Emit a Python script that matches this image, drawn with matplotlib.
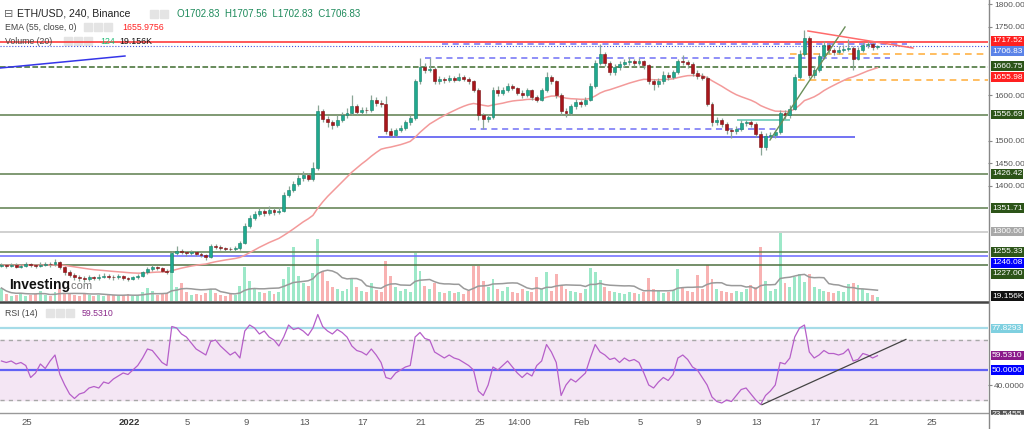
import numpy as np
import pandas as pd
import matplotlib
matplotlib.use("Agg")
import matplotlib.pyplot as plt
from matplotlib.transforms import blended_transform_factory
from matplotlib.patches import Rectangle
from matplotlib.lines import Line2D

plt.rcParams['font.family'] = ['Liberation Sans', 'DejaVu Sans']

# ---- data (8h bars, time in days since Dec 23 00:00) ----
closes = [1226, 1224, 1227, 1223, 1225, 1228, 1226, 1224, 1227, 1229,
          1228, 1232, 1222, 1212, 1205, 1200, 1198, 1196, 1199, 1197,
          1201, 1203, 1200, 1199, 1202, 1198, 1196, 1199, 1203, 1210,
          1218, 1222, 1220, 1214, 1212, 1253, 1257, 1255, 1252, 1254,
          1250, 1248, 1243, 1268, 1266, 1263, 1262, 1261, 1263, 1275,
          1312, 1330, 1338, 1345, 1340, 1348, 1342, 1346, 1380, 1392,
          1405, 1418, 1425, 1416, 1440, 1565, 1548, 1540, 1533, 1545,
          1555, 1560, 1575, 1562, 1568, 1566, 1588, 1582, 1580, 1520,
          1512, 1522, 1528, 1540, 1550, 1630, 1662, 1655, 1658, 1630,
          1636, 1632, 1638, 1634, 1640, 1636, 1630, 1612, 1555, 1548,
          1552, 1612, 1605, 1610, 1620, 1615, 1605, 1600, 1610, 1595,
          1590, 1610, 1640, 1630, 1600, 1565, 1560, 1575, 1585, 1580,
          1590, 1620, 1670, 1690, 1670, 1650, 1662, 1668, 1672, 1675,
          1670, 1674, 1665, 1630, 1625, 1630, 1645, 1640, 1650, 1675,
          1672, 1668, 1648, 1642, 1638, 1580, 1540, 1545, 1537, 1522,
          1520, 1525, 1538, 1540, 1537, 1515, 1485, 1510, 1512, 1518,
          1560, 1555, 1570, 1640, 1690, 1725, 1645, 1655, 1685, 1710,
          1698, 1695, 1700, 1702, 1704, 1680, 1700, 1710, 1712, 1705,
          1706.83]
highs = [1230, 1229, 1231, 1230, 1229, 1233, 1231, 1229, 1232, 1234,
         1233, 1240, 1235, 1225, 1215, 1208, 1204, 1202, 1204, 1203,
         1206, 1208, 1206, 1204, 1207, 1205, 1201, 1203, 1207, 1214,
         1222, 1227, 1225, 1223, 1217, 1258, 1268, 1261, 1258, 1259,
         1257, 1254, 1251, 1273, 1272, 1270, 1267, 1266, 1268, 1280,
         1318, 1336, 1345, 1352, 1350, 1355, 1352, 1353, 1386, 1400,
         1412, 1424, 1432, 1429, 1452, 1578, 1570, 1553, 1545, 1555,
         1562, 1572, 1600, 1580, 1574, 1573, 1600, 1595, 1588, 1598,
         1528, 1528, 1534, 1546, 1556, 1636, 1681, 1670, 1681, 1662,
         1642, 1640, 1645, 1642, 1648, 1645, 1640, 1634, 1616, 1560,
         1558, 1618, 1620, 1618, 1626, 1624, 1618, 1610, 1615, 1613,
         1600, 1616, 1650, 1645, 1634, 1604, 1572, 1580, 1592, 1590,
         1596, 1626, 1678, 1712, 1695, 1674, 1668, 1675, 1680, 1684,
         1680, 1682, 1678, 1668, 1636, 1638, 1652, 1650, 1656, 1680,
         1688, 1678, 1672, 1654, 1648, 1642, 1585, 1552, 1550, 1540,
         1527, 1532, 1545, 1546, 1545, 1540, 1520, 1516, 1518, 1524,
         1566, 1566, 1578, 1646, 1700, 1742, 1730, 1664, 1692, 1718,
         1714, 1704, 1708, 1710, 1723, 1708, 1706, 1716, 1718, 1716,
         1709]
lows = [1221, 1220, 1221, 1219, 1220, 1222, 1222, 1219, 1221, 1224,
        1223, 1225, 1218, 1205, 1200, 1194, 1192, 1190, 1192, 1193,
        1194, 1197, 1195, 1194, 1195, 1193, 1191, 1193, 1196, 1200,
        1207, 1214, 1215, 1210, 1207, 1210, 1249, 1250, 1247, 1248,
        1246, 1243, 1238, 1241, 1261, 1259, 1258, 1257, 1257, 1260,
        1272, 1308, 1326, 1333, 1334, 1336, 1337, 1338, 1343, 1375,
        1386, 1400, 1412, 1410, 1412, 1436, 1540, 1530, 1526, 1530,
        1540, 1550, 1556, 1556, 1558, 1560, 1562, 1576, 1574, 1515,
        1507, 1508, 1518, 1524, 1535, 1546, 1625, 1648, 1650, 1625,
        1625, 1626, 1628, 1628, 1630, 1630, 1624, 1606, 1545, 1525,
        1540, 1548, 1598, 1600, 1606, 1610, 1600, 1594, 1596, 1590,
        1584, 1586, 1606, 1624, 1594, 1556, 1552, 1555, 1570, 1574,
        1575, 1586, 1616, 1665, 1664, 1644, 1645, 1656, 1662, 1666,
        1664, 1665, 1658, 1624, 1612, 1618, 1625, 1632, 1635, 1646,
        1665, 1660, 1642, 1636, 1632, 1575, 1532, 1534, 1530, 1515,
        1505, 1514, 1520, 1532, 1530, 1508, 1468, 1480, 1505, 1506,
        1514, 1548, 1550, 1566, 1635, 1685, 1638, 1638, 1650, 1680,
        1690, 1688, 1690, 1694, 1696, 1655, 1676, 1695, 1704, 1700,
        1702]
volumes = [13, 7, 5, 6, 8, 5, 6, 7, 10, 6,
           5, 9, 12, 8, 7, 6, 5, 7, 6, 5,
           6, 5, 7, 6, 5, 6, 7, 5, 6, 9,
           13, 10, 6, 7, 8, 31, 14, 18, 9, 6,
           7, 6, 8, 12, 8, 6, 5, 7, 6, 15,
           34, 20, 12, 9, 8, 10, 7, 9, 22, 34,
           54, 25, 18, 15, 28, 62, 30, 20, 14, 12,
           10, 12, 22, 14, 10, 9, 18, 11, 9, 40,
           25, 14, 10, 12, 9, 48, 30, 15, 12, 18,
           9, 8, 10, 8, 9, 7, 10, 35, 35, 20,
           14, 22, 12, 10, 14, 9, 8, 12, 10, 9,
           24, 12, 29, 10, 27, 16, 12, 10, 9, 8,
           12, 33, 29, 21, 14, 10, 9, 8, 7, 9,
           8, 7, 9, 23, 12, 10, 8, 9, 11, 32,
           13, 10, 9, 26, 12, 36, 22, 12, 10, 9,
           8, 10, 9, 12, 16, 14, 54, 20, 10, 12,
           68, 18, 14, 24, 27, 19, 27, 14, 12, 10,
           9, 8, 10, 9, 17, 18, 16, 12, 8, 6,
           4]
rsi = [56, 55, 56, 54, 55, 53, 45, 48, 54, 51,
       56, 60, 47, 40, 34, 31, 34, 35, 38, 39,
       38, 42, 41, 44, 46, 48, 47, 50, 53, 58,
       64, 63, 59, 55, 53, 79, 78, 74, 72, 68,
       64, 62, 60, 69, 70, 66, 63, 60, 62, 58,
       76, 80, 78, 74, 76, 72, 70, 66, 72, 80,
       77, 78, 76, 73, 78, 87, 79, 76, 74, 77,
       75, 72, 66, 63, 62, 60, 64, 60, 55, 45,
       44, 48, 50, 52, 53, 72, 75, 71, 70, 62,
       60, 58, 60, 58, 57, 55, 53, 50, 36, 33,
       40, 52, 50, 53, 56, 52, 48, 45, 48, 46,
       53, 56, 67, 62, 55, 33, 40, 44, 42, 45,
       48, 58, 67, 62, 60, 57, 58, 55, 58, 56,
       57, 55, 48, 40, 38, 42, 45, 43, 47, 58,
       60, 57, 52, 50, 45, 40, 32, 29, 28, 30,
       29, 33, 37, 38, 34, 30, 27, 33, 36, 40,
       55, 54, 58, 72, 78, 80, 62, 58, 60, 63,
       61, 61, 60, 61, 64, 56, 57, 61, 60, 58,
       59.531]

bar_time = 0.25 + np.arange(len(closes)) / 3.0

# horizontal levels: (price, line colour, style)
levels = [(1717.52, '#ff2b2b', '-'), (1660.75, '#3d6b2d', '--'), (1556.69, '#5d7d4d', '-'),
          (1426.42, '#5d7d4d', '-'), (1351.71, '#5d7d4d', '-'), (1300.00, '#c4c4c4', '-'),
          (1255.33, '#5d7d4d', '-'), (1246.08, '#6a6aff', '-'), (1227.00, '#4e7040', '-')]
# right-edge price labels: (label y in price units, text, background)
price_labels = [(1718.7, '1717.52', '#ff2020'), (1696.5, '1706.83', '#5b83e8'),
                (1663.7, '1660.75', '#2c5418'), (1639.5, '1655.98', '#ff2020'),
                (1557.6, '1556.69', '#2c5418'), (1426.4, '1426.42', '#2c5418'),
                (1351.6, '1351.71', '#2c5418'), (1300.0, '1300.00', '#a8a8a8'),
                (1255.3, '1255.33', '#2c5418'), (1230.8, '1246.08', '#0000ff'),
                (1206.6, '1227.00', '#2c5418'), (1158.0, '19.156K', '#111111')]
green_trend = ([52.89, 58.03], [1501.1, 1749.5])
red_trend = ([55.49, 62.68], [1740.7, 1703.3])
blue_left = ([0.15, 8.71], [1659.3, 1685.7])
blue_support = (1507.7, 26.04, 58.71)
blue_dashed = [(1713.0, 30.42, 62.27), (1680.7, 29.26, 61.11), (1525.0, 32.34, 53.37)]
orange_dashed = [(1689.5, 54.26), (1633.0, 54.81)]
teal_seg = (1545.0, 50.63, 54.26)
rsi_trend = ([52.34, 62.2], [26.9, 70.4])

date_pos = [2, 9, 13, 17, 21, 25, 29, 33, 35.7, 40, 44, 48, 52, 56, 60, 64]
date_lab = ['25', '2022', '5', '9', '13', '17', '21', '25', '14:00', 'Feb', '5', '9', '13', '17', '21', '25']

W, H = 1024, 429
fig = plt.figure(figsize=(W / 100, H / 100), dpi=100)
fig.patch.set_facecolor('white')


def fx(x):
    return x / W


def fy(y):
    return 1 - y / H


def t_of(x):
    return 2 + (x - 27) / 14.6


def p_of(y):
    return 1800 - (y - 4) / 0.455


def r_of(y):
    return 50 - (y - 370) / 1.5


LBL = 6.0

# ---- main price panel ----
ax = fig.add_axes([0, fy(301), fx(988), 301 / H])
axv = ax.twinx()
ax.set_zorder(axv.get_zorder() + 1)
ax.patch.set_visible(False)
ax.set_xlim(t_of(0), t_of(988))
ax.set_ylim(p_of(301), p_of(0))

opens = [closes[0] - 1] + closes[:-1]
bull = np.array(closes) >= np.array(opens)

# volume
axv.set_ylim(0, 301)
vcol = np.where(bull, '#9de8c8', '#f8b2b2')
axv.bar(bar_time, volumes, width=0.2, color=vcol, linewidth=0)
vma = pd.Series(volumes).rolling(10, min_periods=1).mean()
axv.plot(bar_time, vma, color='#9a9a9a', lw=1.1)
axv.set_yticks([])
for s in axv.spines.values():
    s.set_visible(False)

for price, col, ls in levels:
    ax.axhline(price, color=col, lw=1.1, ls=ls, zorder=1)
ax.axhline(closes[-1], color='#4455dd', lw=0.8, ls=':', zorder=1)

ax.plot(*blue_left, color='#3535e8', lw=1.1)
ax.hlines(blue_support[0], blue_support[1], blue_support[2], color='#4b4bf0', lw=1.1)
for price, a, b in blue_dashed:
    ax.hlines(price, a, b, color='#7070f5', lw=1.1, ls=(0, (4, 3)))
for price, a in orange_dashed:
    ax.hlines(price, a, t_of(988), color='#ffb347', lw=1.2, ls=(0, (4, 3)))
ax.hlines(teal_seg[0], teal_seg[1], teal_seg[2], color='#5cc6b0', lw=1.1)

# EMA 55 (4h) ~ span 28 on 8h bars
ema = pd.Series(closes).ewm(span=28, adjust=False).mean()
ax.plot(bar_time, ema, color='#f39a9a', lw=1.1, zorder=2)

# candles
bcol = np.where(bull, '#1fa98e', '#a8161b')
ax.vlines(bar_time, lows, highs, color='#8aa596', lw=0.9, zorder=3)
body_lo = np.minimum(opens, closes)
body_h = np.maximum(np.abs(np.array(closes) - np.array(opens)), 0.8)
ax.bar(bar_time, body_h, bottom=body_lo, width=0.2, color=bcol,
       edgecolor=np.where(bull, '#17806b', '#7a0f12'), linewidth=0.4, zorder=4)

ax.plot(*green_trend, color='#6a8f5a', lw=1.0, zorder=5)
ax.plot(*red_trend, color='#ff6b6b', lw=1.1, zorder=5)

ax.yaxis.tick_right()
ax.set_yticks([1800, 1750, 1600, 1500, 1450, 1400])
ax.set_yticklabels(['1800.00', '1750.00', '1600.00', '1500.00', '1450.00', '1400.00'])
ax.tick_params(axis='y', length=3, color='#888888', labelsize=LBL, labelcolor='#555555', pad=1.5)
ax.set_xticks([])
for s in ax.spines.values():
    s.set_visible(False)

tr = blended_transform_factory(ax.transAxes, ax.transData)
for yv, txt, bg in price_labels:
    ax.text(1.0 + 4 / 988, yv, txt, transform=tr, ha='left', va='center', fontsize=LBL,
            color='white', bbox=dict(boxstyle='square,pad=0.15', fc=bg, ec='none'), clip_on=False)

# logo
fig.text(fx(9), fy(285), 'Investing', fontsize=10, fontweight='bold', color='#111111', va='center')
fig.text(fx(68), fy(286), '.com', fontsize=8, color='#777777', va='center')

# ---- RSI panel ----
axr = fig.add_axes([0, fy(412), fx(988), 109 / H])
axr.set_xlim(t_of(0), t_of(988))
axr.set_ylim(r_of(412), r_of(303))
axr.axhspan(30, 70, color='#f4e6f4', zorder=0)
axr.axhline(70, color='#a8a8a8', lw=1.0, ls=(0, (3, 3)))
axr.axhline(30, color='#a8a8a8', lw=1.0, ls=(0, (3, 3)))
axr.axhline(77.8293, color='#a6dce8', lw=1.6)
axr.axhline(50, color='#6262f5', lw=1.6)
axr.plot(bar_time, rsi, color='#b65fc9', lw=0.9)
axr.plot(*rsi_trend, color='#444444', lw=0.9)
axr.yaxis.tick_right()
axr.set_yticks([40])
axr.set_yticklabels(['40.0000'])
axr.tick_params(axis='y', length=3, color='#888888', labelsize=LBL, labelcolor='#555555', pad=1.5)
axr.set_xticks(date_pos)
axr.set_xticklabels(date_lab)
axr.tick_params(axis='x', length=0, labelsize=6.8, labelcolor='#555555', pad=4)
for lbl in axr.get_xticklabels():
    if lbl.get_text() == '2022':
        lbl.set_fontweight('bold')
        lbl.set_color('#333333')
for s in axr.spines.values():
    s.set_visible(False)

trr = blended_transform_factory(axr.transAxes, axr.transData)
for yv, txt, bg in [(77.8293, '77.8293', '#7fd0e0'), (59.531, '59.5310', '#8b1a8b'),
                    (50.0, '50.0000', '#0000ff'), (r_of(415), '23.5455', '#555555')]:
    axr.text(1.0 + 4 / 988, yv, txt, transform=trr, ha='left', va='center', fontsize=LBL,
             color='white', bbox=dict(boxstyle='square,pad=0.15', fc=bg, ec='none'), clip_on=False)

# frame lines
fig.add_artist(Rectangle((fx(988), 0), 1 - fx(988), fy(414.5), color='white', zorder=10))
fig.add_artist(Line2D([0, fx(988)], [fy(301.8), fy(301.8)], color='#444444', lw=1.8))
fig.add_artist(Line2D([0, fx(988)], [fy(412.5), fy(412.5)], color='#999999', lw=1.0, zorder=11))
fig.add_artist(Line2D([fx(988.5), fx(988.5)], [0, 1], color='#888888', lw=1.0, zorder=11))

# ---- header texts ----
fig.text(fx(4), fy(14), '\u229f', fontsize=8, color='#666666', va='center')
fig.text(fx(17), fy(14), 'ETH/USD, 240, Binance', fontsize=7.6, color='#222222', va='center')
fig.text(fx(177), fy(14), 'O1702.83  H1707.56  L1702.83  C1706.83', fontsize=7, color='#1d8a5b', va='center')
fig.text(fx(5), fy(27), 'EMA (55, close, 0)', fontsize=6.3, color='#444444', va='center')
fig.text(fx(122), fy(27), '1655.9756', fontsize=6.3, color='#ff2020', va='center')
fig.text(fx(5), fy(41), 'Volume (20)', fontsize=6.3, color='#444444', va='center')
fig.text(fx(100), fy(41), '124', fontsize=6.3, color='#22bb77', va='center')
fig.text(fx(119), fy(41), '19.156K', fontsize=6.3, color='#111111', va='center')
fig.text(fx(5), fy(313), 'RSI (14)', fontsize=6.3, color='#444444', va='center')
fig.text(fx(82), fy(313), '59.5310', fontsize=6.3, color='#8b2a8b', va='center')
for x0, y0, n in [(150, 14, 2), (84, 27, 3), (64, 41, 3), (46, 313, 3)]:
    for i in range(n):
        fig.add_artist(Rectangle((fx(x0 + i * 10), fy(y0 + 4)), 8 / W, 8 / H, color='#e4e4e4'))

fig.savefig('out.png', dpi=100)
